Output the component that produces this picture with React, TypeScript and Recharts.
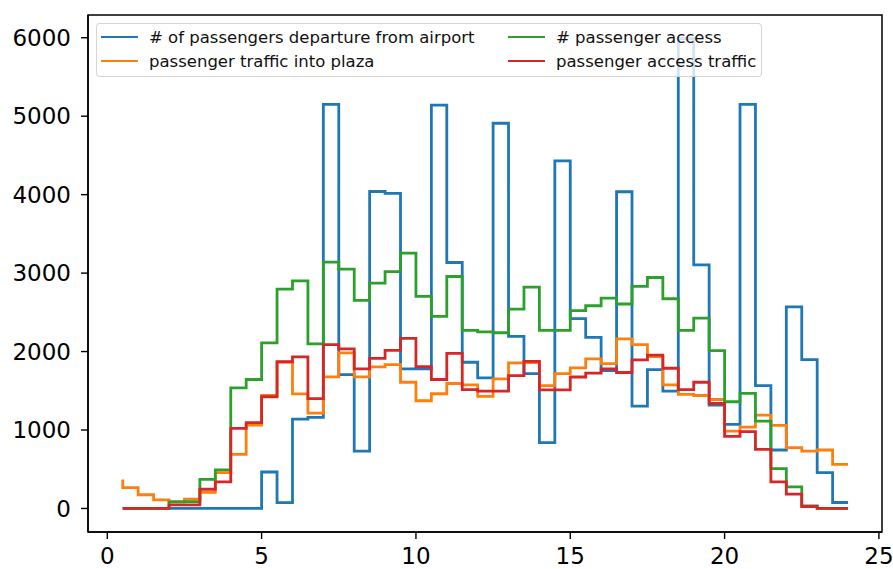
import { LineChart, Line, XAxis, YAxis, Legend, ReferenceArea } from "recharts";

// half-hour bins across the day
const hours = [
  0.5, 1, 1.5, 2, 2.5, 3, 3.5, 4, 4.5, 5, 5.5, 6, 6.5, 7, 7.5, 8, 8.5, 9, 9.5, 10,
  10.5, 11, 11.5, 12, 12.5, 13, 13.5, 14, 14.5, 15, 15.5, 16, 16.5, 17, 17.5, 18,
  18.5, 19, 19.5, 20, 20.5, 21, 21.5, 22, 22.5, 23, 23.5, 24,
];

const departures = [
  0, 0, 0, 0, 0, 0, 0, 0, 0, 0,
  465, 75, 1140, 1160, 5150, 1707, 732, 4040, 4017, 1780,
  1780, 5140, 3135, 1864, 1665, 4910, 2194, 1720, 839, 4430,
  2419, 2181, 1758, 4037, 1304, 1771, 1495, 5990, 3105, 1317,
  1072, 5150, 1567, 745, 2570, 1898, 457, 76,
];

const plazaTraffic = [
  370, 265, 175, 110, 88, 118, 205, 458, 690, 1063,
  1440, 1865, 1460, 1215, 1678, 1983, 1678, 1805, 1834, 1609,
  1373, 1462, 1593, 1576, 1430, 1652, 1856, 1860, 1567, 1720,
  1792, 1907, 1847, 2161, 2088, 1935, 1576, 1453, 1440, 1389,
  987, 1038, 1190, 1059, 775, 732, 745, 563,
];

const access = [
  0, 0, 0, 0, 85, 88, 372, 491, 1538, 1644,
  2110, 2797, 2900, 2097, 3139, 3050, 2652, 2873, 3020, 3254,
  2703, 2448, 2957, 2270, 2250, 2240, 2542, 2822, 2270, 2270,
  2521, 2584, 2682, 2606, 2830, 2944, 2673, 2270, 2427, 2012,
  1360, 1466, 1114, 508, 275, 33, 0, 0,
];

const accessTraffic = [
  0, 0, 0, 0, 45, 45, 245, 338, 1021, 1093,
  1424, 1870, 1932, 1400, 2088, 2034, 1780, 1912, 2016, 2167,
  1809, 1644, 1978, 1514, 1495, 1495, 1694, 1876, 1512, 1512,
  1676, 1725, 1780, 1733, 1893, 1955, 1787, 1516, 1609, 1338,
  919, 980, 754, 340, 182, 25, 0, 0,
];

const xTicks = [0, 5, 10, 15, 20, 25];
const yTicks = [0, 1000, 2000, 3000, 4000, 5000, 6000];

const series = [
  { key: "departures", label: "# of passengers departure from airport", color: "#1f77b4", values: departures },
  { key: "plazaTraffic", label: "passenger traffic into plaza", color: "#ff7f0e", values: plazaTraffic },
  { key: "access", label: "# passenger access", color: "#2ca02c", values: access },
  { key: "accessTraffic", label: "passenger access traffic", color: "#d62728", values: accessTraffic },
];

const data = hours.map((hour, i) => {
  const row: Record<string, number> = { hour };
  series.forEach((s) => {
    row[s.key] = s.values[i];
  });
  return row;
});

const X_DOMAIN: [number, number] = [-0.625, 25.1];
const Y_DOMAIN: [number, number] = [-300, 6290];
const FONT = "'DejaVu Sans', sans-serif";

// two-column legend: departures/plaza on the left, access on the right
const legendOrder = [
  [series[0], series[1]],
  [series[2], series[3]],
];

function LegendBox() {
  return (
    <div
      style={{
        position: "relative",
        width: 666,
        height: 54,
        boxSizing: "border-box",
        background: "rgba(255,255,255,0.8)",
        border: "1px solid rgba(204,204,204,0.8)",
        borderRadius: 4,
        fontFamily: FONT,
        fontSize: 16.5,
        color: "#111",
      }}
    >
      {legendOrder.map((col, c) =>
        col.map((s, r) => (
          <div
            key={s.key}
            style={{
              position: "absolute",
              left: 4 + c * 407,
              top: 1 + r * 24,
              height: 24,
              display: "flex",
              alignItems: "center",
              whiteSpace: "nowrap",
            }}
          >
            <span
              style={{
                display: "inline-block",
                width: 37,
                height: 0,
                borderTop: `2.7px solid ${s.color}`,
                marginRight: 11,
              }}
            />
            <span>{s.label}</span>
          </div>
        ))
      )}
    </div>
  );
}

export default function App() {
  return (
    <div style={{ position: "absolute", left: 0, top: 0, width: 893, height: 569, background: "#fff" }}>
      <LineChart width={893} height={569} data={data} margin={{ top: 15, right: 11, bottom: 0, left: 0 }}>
        <XAxis
          dataKey="hour"
          type="number"
          domain={X_DOMAIN}
          ticks={xTicks}
          allowDataOverflow
          height={37}
          tickSize={7}
          tickMargin={9}
          axisLine={{ stroke: "#000", strokeWidth: 1.5 }}
          tickLine={{ stroke: "#000", strokeWidth: 1.4 }}
          tick={{ fill: "#000", fontSize: 23, fontFamily: FONT }}
        />
        <YAxis
          type="number"
          domain={Y_DOMAIN}
          ticks={yTicks}
          allowDataOverflow
          width={88}
          tickSize={7}
          tickMargin={10}
          axisLine={{ stroke: "#000", strokeWidth: 1.5 }}
          tickLine={{ stroke: "#000", strokeWidth: 1.4 }}
          tick={{ fill: "#000", fontSize: 23, fontFamily: FONT }}
        />
        {series.map((s) => (
          <Line
            key={s.key}
            dataKey={s.key}
            name={s.label}
            type="stepBefore"
            stroke={s.color}
            strokeWidth={2.8}
            dot={false}
            activeDot={false}
            isAnimationActive={false}
          />
        ))}
        <ReferenceArea
          x1={X_DOMAIN[0]}
          x2={X_DOMAIN[1]}
          y1={Y_DOMAIN[0]}
          y2={Y_DOMAIN[1]}
          fill="none"
          stroke="#000"
          strokeWidth={1.5}
          ifOverflow="visible"
        />
        <Legend
          layout="horizontal"
          align="center"
          verticalAlign="middle"
          wrapperStyle={{ left: 96, top: 23, width: 666, height: 54 }}
          content={() => <LegendBox />}
        />
      </LineChart>
    </div>
  );
}
